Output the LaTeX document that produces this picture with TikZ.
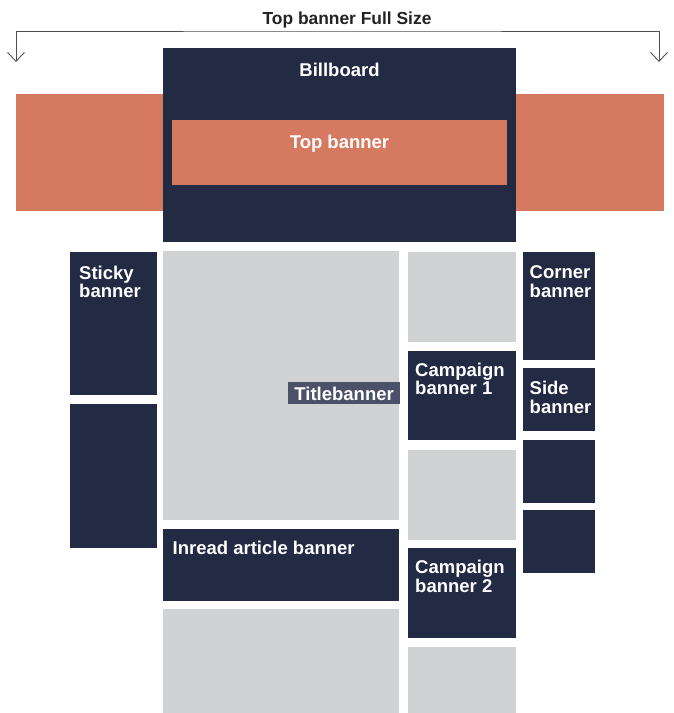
\documentclass[tikz,border=0pt]{standalone}
\usepackage{fontspec}
\setmainfont{Liberation Sans}
\usepackage{color}
\definecolor{adnavy}{RGB}{34,42,68}
\definecolor{adorange}{RGB}{213,122,96}
\definecolor{adgrey}{RGB}{209,210,212}
\definecolor{adslate}{RGB}{75,81,105}
\definecolor{adink}{RGB}{34,34,34}
\usepackage{tikz}
\usetikzlibrary{calc,arrows,arrows.meta,positioning}
\tikzstyle{slot}=[rectangle,inner sep=0pt,anchor=north west]
\tikzstyle{ad}=[slot,fill=adnavy]
\tikzstyle{content}=[slot,fill=adgrey]
\tikzstyle{lbl}=[text=white,font=\bfseries\fontsize{18.5}{18.5}\selectfont,align=left,inner sep=0pt,anchor=base west]
\tikzstyle{dimline}=[draw=adink!80,line width=0.9pt,{Straight Barb[length=9pt,width=17pt]}-{Straight Barb[length=9pt,width=17pt]}]

\begin{document}
\begin{tikzpicture}[x=1pt,y=-1pt]
\useasboundingbox (0,0) rectangle (674,713);
% full size top banner
\node [font=\bfseries\fontsize{17.4}{18}\selectfont,text=adink,anchor=base] (fullcap) at (347,24) {Top banner Full Size};
\coordinate (al) at (16,62);
\coordinate (ar) at (659,62);
\coordinate (atop) at (347,31);
\draw [dimline] (al) |- (atop) -| (ar);
\node [slot,fill=adorange,minimum width=648pt,minimum height=117pt] (fullsize) at (16,94) {};
\node [ad,minimum width=353pt,minimum height=194pt] (billboard) at (163,48) {};
\node [slot,fill=adorange,minimum width=335pt,minimum height=65pt] (topbanner) at (172,120) {};
\node [lbl,anchor=base] (billboardl) at (339.5,76) {Billboard};
\node [lbl,anchor=base] (topbannerl) at (339.5,148) {Top banner};

% left column
\node [ad,minimum width=87pt,minimum height=143pt] (sticky) at (70,252) {};
\node [ad,minimum width=87pt,minimum height=144pt] (sticky2) at (70,404) {};
\node [lbl] (stickyl) at (79,297.5) {Sticky\\banner};

% article column
\node [content,minimum width=236pt,minimum height=269pt] (article) at (163,251) {};
\node [lbl,fill=adslate,anchor=base east,inner xsep=6pt,inner ysep=0pt,text height=18pt,text depth=4pt] (titlebanner) at (400,400) {Titlebanner};
\node [ad,minimum width=236pt,minimum height=72pt] (inread) at (163,529) {};
\node [lbl] (inreadl) at (172.5,554) {Inread article banner};
\node [content,minimum width=236pt,minimum height=104pt] (article2) at (163,609) {};

% campaign column
\node [content,minimum width=108pt,minimum height=90pt] (grey1) at (408,252) {};
\node [ad,minimum width=108pt,minimum height=89pt] (campaign1) at (408,351) {};
\node [lbl] (campaign1l) at (415,394.7) {Campaign\\banner 1};
\node [content,minimum width=108pt,minimum height=90pt] (grey2) at (408,450) {};
\node [ad,minimum width=108pt,minimum height=90pt] (campaign2) at (408,548) {};
\node [lbl] (campaign2l) at (415,592) {Campaign\\banner 2};
\node [content,minimum width=108pt,minimum height=66pt] (grey3) at (408,647) {};

% right column
\node [ad,minimum width=72pt,minimum height=108pt] (corner) at (523,252) {};
\node [lbl] (cornerl) at (529.5,297.3) {Corner\\banner};
\node [ad,minimum width=72pt,minimum height=63pt] (side) at (523,368) {};
\node [lbl] (sidel) at (529.5,413.3) {Side\\banner};
\node [ad,minimum width=72pt,minimum height=63pt] (side2) at (523,440) {};
\node [ad,minimum width=72pt,minimum height=63pt] (side3) at (523,510) {};
\end{tikzpicture}
\end{document}
